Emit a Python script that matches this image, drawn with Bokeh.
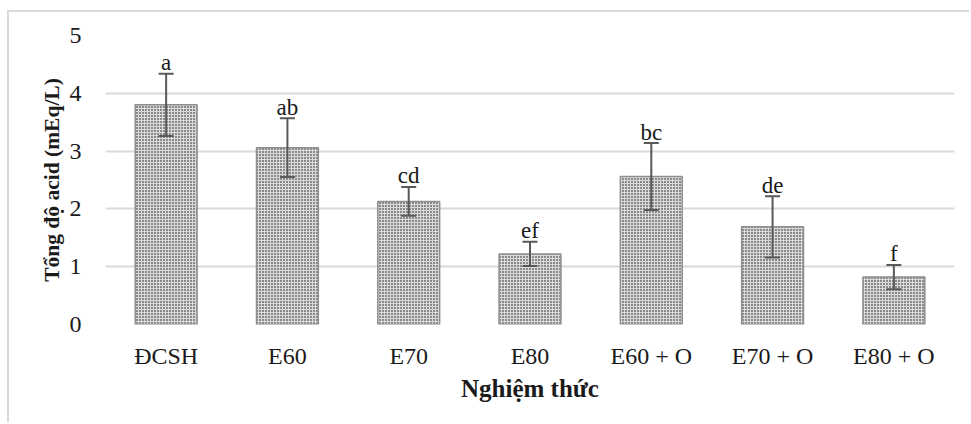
from bokeh.plotting import figure
from bokeh.models import ColumnDataSource, Whisker, TeeHead, FixedTicker, Range1d
from bokeh.embed import file_html
from bokeh.resources import INLINE
from bokeh.core.properties import value

categories = ["ĐCSH", "E60", "E70", "E80", "E60 + O", "E70 + O", "E80 + O"]
means = [3.80, 3.06, 2.13, 1.22, 2.56, 1.69, 0.82]
errors = [0.54, 0.51, 0.25, 0.21, 0.58, 0.53, 0.21]
letters = ["a", "ab", "cd", "ef", "bc", "de", "f"]
y_ticks = [0, 1, 2, 3, 4, 5]

FONT = "Liberation Serif"

src = ColumnDataSource(dict(
    cat=categories,
    mean=means,
    upper=[m + e for m, e in zip(means, errors)],
    lower=[m - e for m, e in zip(means, errors)],
    letter=letters,
))

p = figure(
    x_range=categories,
    y_range=Range1d(0, 5),
    width=962, height=412,
    output_backend="svg", toolbar_location=None,
    min_border_left=96, min_border_right=17,
    min_border_top=23, min_border_bottom=100,
)
p.margin = (10, 0, 0, 7)
p.styles = {"border-top": "2px solid #d9d9d9", "border-left": "2px solid #d9d9d9"}
p.outline_line_color = None
p.background_fill_color = "white"
p.border_fill_color = "white"

p.vbar(x="cat", top="mean", width=0.51, source=src,
       fill_color="#dadada", line_color="#8f8f8f", line_width=1.5,
       hatch_pattern="dot", hatch_color="#111111", hatch_scale=3.0, hatch_weight=1.6)

w = Whisker(base="cat", upper="upper", lower="lower", source=src,
            line_color="#595959", line_width=2, level="overlay",
            upper_head=TeeHead(size=15, line_color="#595959", line_width=2),
            lower_head=TeeHead(size=15, line_color="#595959", line_width=2))
p.add_layout(w)

p.text(x="cat", y="upper", text="letter", source=src,
       text_font=value(FONT), text_font_size="23px", text_color="#1a1a1a",
       text_align="center", text_baseline="alphabetic", y_offset=-11)

p.xgrid.grid_line_color = None
p.ygrid.grid_line_color = "#d9d9d9"
p.ygrid.grid_line_width = 2
p.yaxis.ticker = FixedTicker(ticks=y_ticks)

for ax in (p.xaxis[0], p.yaxis[0]):
    ax.axis_line_color = None
    ax.major_tick_line_color = None
    ax.minor_tick_line_color = None
    ax.major_label_text_font = FONT
    ax.major_label_text_font_size = "24px"
    ax.major_label_text_color = "#1a1a1a"
    ax.axis_label_text_font = FONT
    ax.axis_label_text_font_style = "bold"
    ax.axis_label_text_color = "#1a1a1a"

p.xaxis.axis_label = "Nghiệm thức"
p.yaxis.axis_label = "Tổng độ acid (mEq/L)"
p.xaxis.axis_label_text_font_size = "25px"
p.yaxis.axis_label_text_font_size = "21.5px"
p.xaxis.major_label_standoff = 12
p.yaxis.major_label_standoff = 18
p.xaxis.axis_label_standoff = 3
p.yaxis.axis_label_standoff = 3

open("out.html", "w").write(file_html(p, INLINE))
